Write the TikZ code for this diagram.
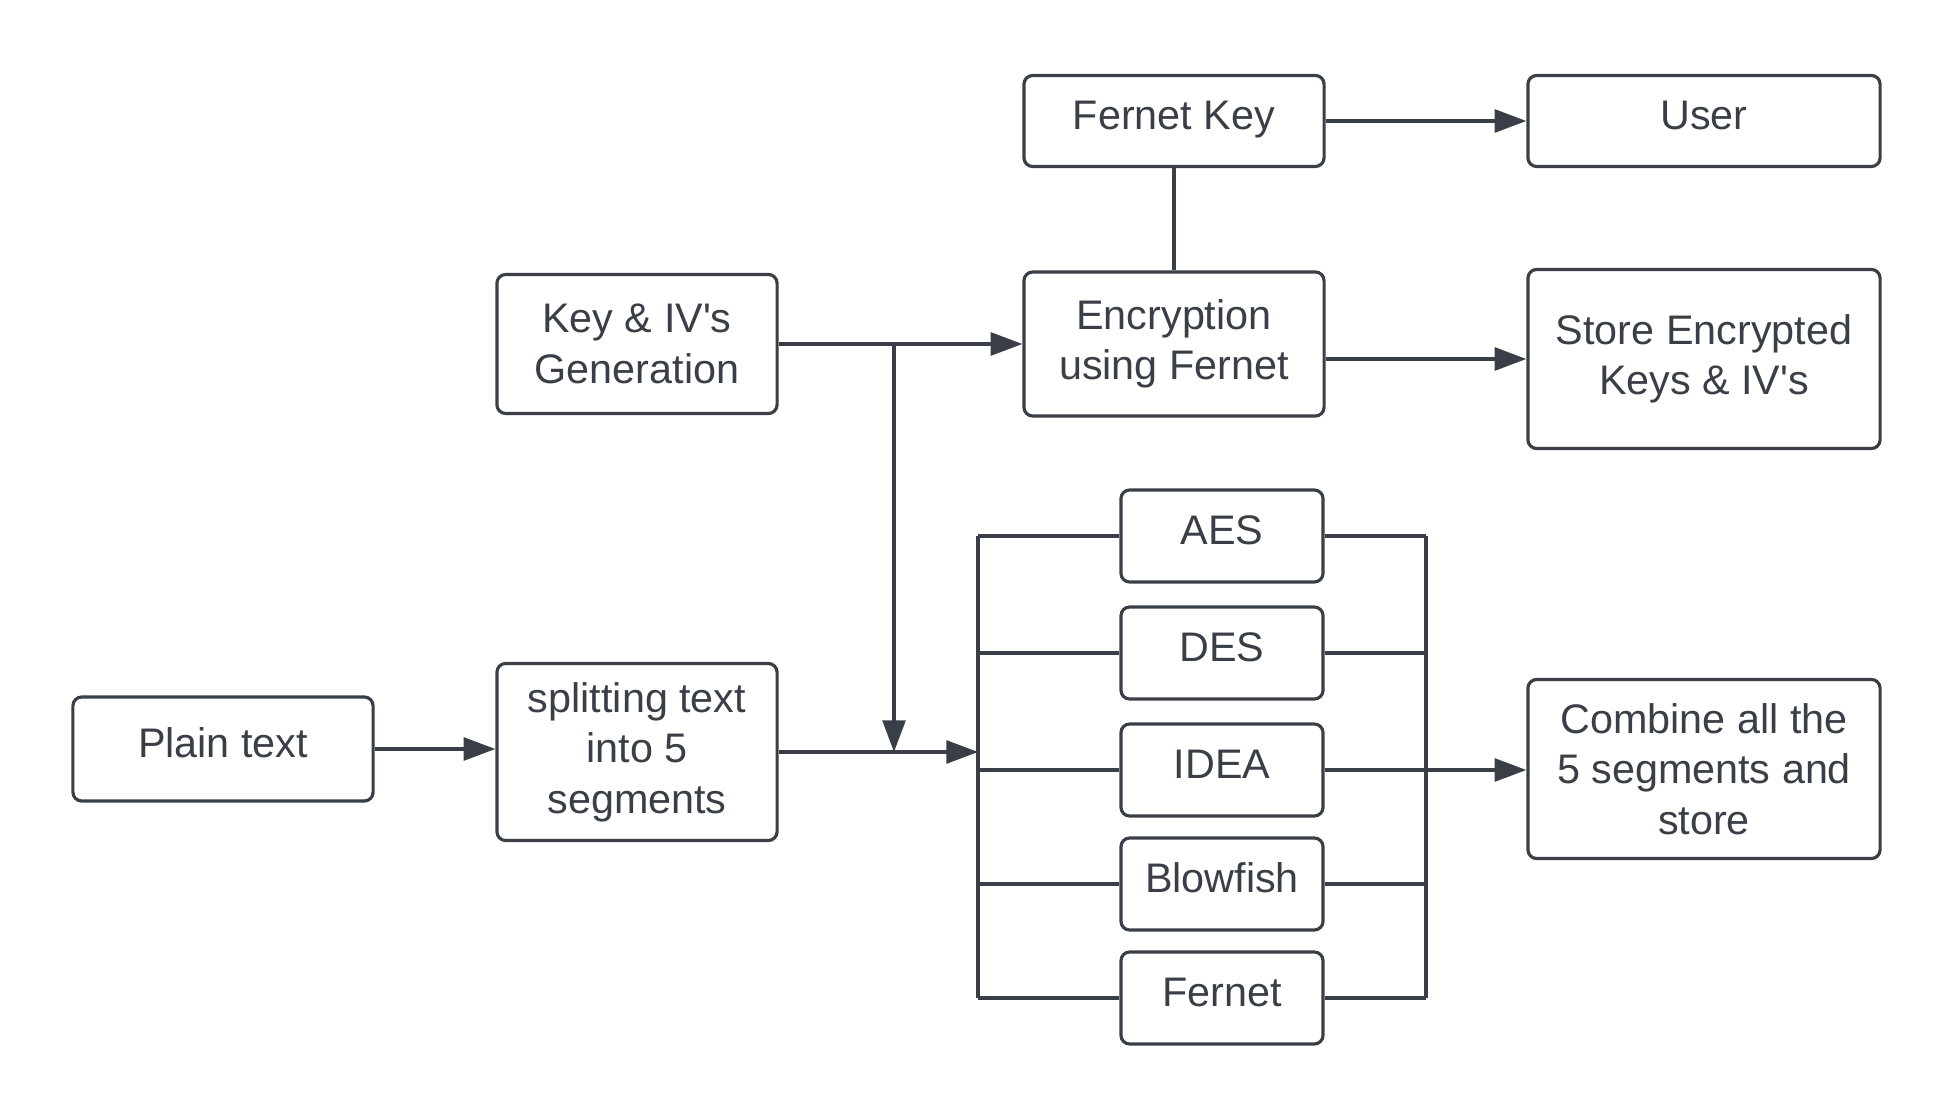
\documentclass[tikz,border=0pt]{standalone}
\usepackage{xcolor}
\usepackage{fontspec}
\setmainfont{Liberation Sans}
\usetikzlibrary{arrows.meta}
\definecolor{inkgray}{RGB}{58,63,71}

\begin{document}
\begin{tikzpicture}[x=0.01cm, y=-0.01cm, color=inkgray, line width=0.9pt,
    blk/.style={draw, rounded corners=2.5pt, align=center, inner sep=2pt,
        font=\fontsize{11.75}{14.4}\selectfont},
    one/.style={text height=0.75em, text depth=0.27em},
    wide/.style={minimum width=3.52cm},
    algo/.style={blk, one, minimum width=2.02cm, minimum height=0.92cm},
    arr/.style={-{Triangle[length=9pt,width=6.5pt]}}]
    \useasboundingbox (0,0) rectangle (1958,1119);

    % top row
    \node[blk, one, minimum width=3cm, minimum height=0.91cm] (fkey) at (1174,121) {Fernet Key};
    \node[blk, one, wide, minimum height=0.91cm] (user) at (1704,121) {User};
    \node[blk, minimum width=2.8cm, minimum height=1.39cm] (keyiv) at (637,344) {Key \& IV\textquotesingle s\\Generation};
    \node[blk, minimum width=3cm, minimum height=1.44cm] (enc) at (1174,344) {Encryption\\using Fernet};
    \node[blk, wide, minimum height=1.79cm] (store) at (1704,359) {Store Encrypted\\Keys \& IV\textquotesingle s};

    % bottom row
    \node[blk, one, minimum width=3cm, minimum height=1.04cm] (plain) at (223,749) {Plain text};
    \node[blk, minimum width=2.8cm, minimum height=1.77cm] (split) at (637,752) {splitting text\\into 5\\segments};
    \node[algo] (aes) at (1222,536) {AES};
    \node[algo] (des) at (1222,653) {DES};
    \node[algo] (idea) at (1222,770) {IDEA};
    \node[algo] (blow) at (1222,884) {Blowfish};
    \node[algo] (fer) at (1222,998) {Fernet};
    \node[blk, wide, minimum height=1.79cm] (combine) at (1704,769) {Combine all the\\5 segments and\\store};

    \coordinate (lbus) at (978,0);
    \coordinate (rbus) at (1426,0);
    \coordinate (drop) at (894,0);

    % connectors
    \draw[arr] (fkey) -- (user);
    \draw (fkey.south) -- (enc.north);
    \draw[arr] (keyiv.east) -- (enc.west);
    \draw[arr] (store.west -| enc.east) -- (store.west);
    \draw[arr] (plain) -- (plain -| split.west);
    \draw[arr] (split.east) -- (lbus |- split.east);
    \draw[arr] (drop |- keyiv.east) -- (drop |- split.east);

    \draw (lbus |- aes.west) -- (lbus |- fer.west);
    \draw (rbus |- aes.east) -- (rbus |- fer.east);
    \foreach \n in {aes,des,idea,blow,fer}{
        \draw (\n.west) -- (lbus |- \n.west);
        \draw (\n.east) -- (rbus |- \n.east);
    }
    \draw[arr] (idea.east) -- (idea.east -| combine.west);
\end{tikzpicture}
\end{document}
